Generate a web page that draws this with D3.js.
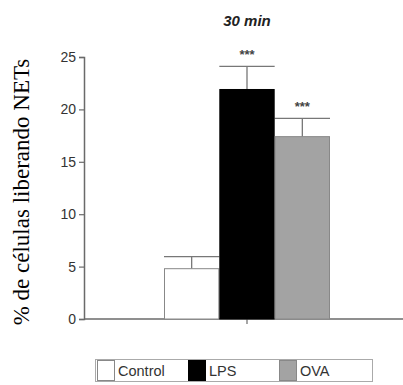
<!DOCTYPE html>
<html>
<head>
<meta charset="utf-8">
<script src="https://cdn.jsdelivr.net/npm/d3@7"></script>
<style>
  body { margin: 0; background: #fff; }
  svg { display: block; }
</style>
</head>
<body>
<svg id="chart" width="403" height="385"></svg>
<script>
const groups = ['30 min'];
const series = ['Control', 'LPS', 'OVA'];
const values = [4.8, 21.9, 17.4];
const errors = [1.15, 2.2, 1.75];
const stars = ['', '***', '***'];
const yTicks = [0, 5, 10, 15, 20, 25];
const fills = ['#ffffff', '#000000', '#a3a3a3'];
const strokes = ['#888888', '#000000', '#888888'];

const svg = d3.select('#chart');
const AXIS = '#6a6a6a';

const y = d3.scaleLinear().domain([0, 25]).range([319, 57]);
const x0 = d3.scaleBand().domain(groups).range([164, 330]);
const x1 = d3.scaleBand().domain(series).range([0, x0.bandwidth()]);

// y axis
const yAxis = svg.append('g')
  .attr('transform', 'translate(84,0)')
  .call(d3.axisLeft(y).tickValues(yTicks).tickSize(5).tickPadding(3));
yAxis.select('.domain').attr('stroke', AXIS).attr('stroke-width', 1.5);
yAxis.selectAll('.tick line').attr('stroke', AXIS).attr('stroke-width', 1.2);
yAxis.selectAll('.tick text')
  .attr('fill', '#333')
  .style('font-family', 'Arial, "Liberation Sans", sans-serif')
  .style('font-size', '14px');

// x axis line
svg.append('line')
  .attr('x1', 84).attr('x2', 403)
  .attr('y1', y(0)).attr('y2', y(0))
  .attr('stroke', AXIS).attr('stroke-width', 1.5);
svg.selectAll('.xtick')
  .data(groups)
  .enter()
  .append('line')
  .attr('x1', g => x0(g) + x0.bandwidth() / 2)
  .attr('x2', g => x0(g) + x0.bandwidth() / 2)
  .attr('y1', y(0)).attr('y2', y(0) + 5)
  .attr('stroke', AXIS).attr('stroke-width', 1.2);

// group title
svg.selectAll('.gtitle')
  .data(groups)
  .enter()
  .append('text')
  .attr('x', g => x0(g) + x0.bandwidth() / 2)
  .attr('y', 26)
  .attr('text-anchor', 'middle')
  .style('font-family', 'Arial, "Liberation Sans", sans-serif')
  .style('font-size', '15px')
  .style('font-weight', 'bold')
  .style('font-style', 'italic')
  .attr('fill', '#222')
  .text(g => g);

const g0 = groups[0];
const bars = svg.append('g').attr('transform', `translate(${x0(g0)},0)`);

// error bars
series.forEach((s, i) => {
  const cx = x1(s) + x1.bandwidth() / 2;
  const top = y(values[i] + errors[i]);
  bars.append('line')
    .attr('x1', cx).attr('x2', cx)
    .attr('y1', y(values[i])).attr('y2', top)
    .attr('stroke', '#777').attr('stroke-width', 1.3);
  bars.append('line')
    .attr('x1', x1(s)).attr('x2', x1(s) + x1.bandwidth())
    .attr('y1', top).attr('y2', top)
    .attr('stroke', '#777').attr('stroke-width', 1.3);
  if (stars[i]) {
    bars.append('text')
      .attr('x', cx)
      .attr('y', top - 7)
      .attr('text-anchor', 'middle')
      .style('font-family', 'Arial, "Liberation Sans", sans-serif')
      .style('font-size', '13px')
      .style('font-weight', 'bold')
      .attr('fill', '#444')
      .text(stars[i]);
  }
});

bars.selectAll('rect')
  .data(series)
  .enter()
  .append('rect')
  .attr('x', s => x1(s) + 0.5)
  .attr('width', x1.bandwidth() - 1)
  .attr('y', (s, i) => y(values[i]))
  .attr('height', (s, i) => y(0) - y(values[i]))
  .attr('fill', (s, i) => fills[i])
  .attr('stroke', (s, i) => strokes[i])
  .attr('stroke-width', 1);

// y label
svg.append('text')
  .attr('transform', 'translate(29,192) rotate(-90)')
  .attr('text-anchor', 'middle')
  .style('font-family', '"Liberation Serif", "Times New Roman", serif')
  .style('font-size', '23px')
  .attr('fill', '#000')
  .text('% de células liberando NETs');

// legend
const legend = svg.append('g');
legend.append('rect')
  .attr('x', 95.5).attr('y', 359.5)
  .attr('width', 277).attr('height', 22)
  .attr('fill', '#fff').attr('stroke', '#aaa');
const legX = [97, 188, 279];
series.forEach((s, i) => {
  legend.append('rect')
    .attr('x', legX[i] + 0.5).attr('y', 360.5)
    .attr('width', 17).attr('height', 20)
    .attr('fill', fills[i])
    .attr('stroke', strokes[i]);
  legend.append('text')
    .attr('x', legX[i] + 21)
    .attr('y', 376)
    .style('font-family', 'Arial, "Liberation Sans", sans-serif')
    .style('font-size', '14.5px')
    .attr('fill', '#333')
    .text(s);
});
</script>
</body>
</html>
